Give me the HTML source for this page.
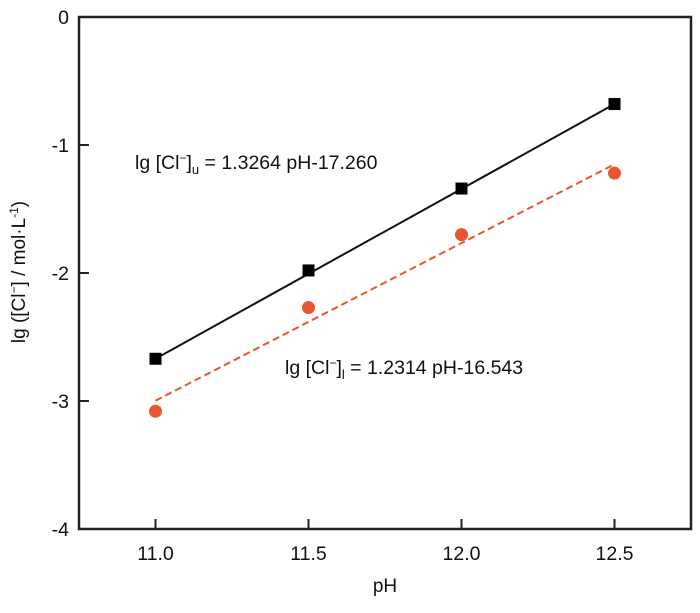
<!DOCTYPE html>
<html><head><meta charset="utf-8"><style>
body{margin:0;background:#fff}
svg text{font-family:"Liberation Sans",Arial,sans-serif;fill:#111}
</style></head><body>
<svg width="700" height="608" id="c">
<text x="135" y="169" font-size="19.5">lg [Cl<tspan dy="-7" font-size="12">−</tspan><tspan dy="7">]</tspan><tspan dy="5" font-size="13">u</tspan><tspan dy="-5"> = 1.3264 pH-17.260</tspan></text>
<text x="285" y="374" font-size="19.5">lg [Cl<tspan dy="-7" font-size="12">−</tspan><tspan dy="7">]</tspan><tspan dy="5" font-size="13">l</tspan><tspan dy="-5"> = 1.2314 pH-16.543</tspan></text>
<text x="385" y="592" font-size="19" text-anchor="middle">pH</text>
<text transform="translate(25,272) rotate(-90)" font-size="19" text-anchor="middle">lg ([Cl<tspan dy="-7" font-size="12">−</tspan><tspan dy="7">] / mol·L</tspan><tspan dy="-7" font-size="12">-1</tspan><tspan dy="7">)</tspan></text>
</svg>
<script>
const xTicks=[11.0,11.5,12.0,12.5];
const xTickLabels=["11.0","11.5","12.0","12.5"];
const yTicks=[0,-1,-2,-3,-4];
const yTickLabels=["0","-1","-2","-3","-4"];
const phValues=[11.0,11.5,12.0,12.5];
const upperValues=[-2.67,-1.98,-1.34,-0.68];
const lowerValues=[-3.08,-2.27,-1.70,-1.22];
const upperFit=[1.3264,-17.260];
const lowerFit=[1.2314,-16.543];
const NS="http://www.w3.org/2000/svg",svg=document.getElementById('c');
const L=79,R=691,T=17,B=529,x0=10.75,x1=12.75,y0=-4,y1=0;
const X=v=>L+(v-x0)/(x1-x0)*(R-L), Y=v=>B-(v-y0)/(y1-y0)*(B-T);
function mk(t,a){const e=document.createElementNS(NS,t);for(const k in a)e.setAttribute(k,a[k]);svg.appendChild(e);return e;}
let e=mk('rect',{x:L,y:T,width:R-L,height:B-T,fill:'none',stroke:'#222','stroke-width':2.5});


xTicks.forEach((v,i)=>{
 let t=mk('line',{x1:X(v),x2:X(v),y1:B,y2:B-10,stroke:'#222','stroke-width':2});
 
 
 let l=mk('text',{x:X(v),y:B+31,'font-size':19.5,'text-anchor':'middle'});l.textContent=xTickLabels[i];
 
 
});
yTicks.forEach((v,i)=>{
 let t=mk('line',{x1:L,x2:L+10,y1:Y(v),y2:Y(v),stroke:'#222','stroke-width':2});
 
 
 let l=mk('text',{x:L-10,y:Y(v)+7,'font-size':19.5,'text-anchor':'end'});l.textContent=yTickLabels[i];
 
 
});
const xa=phValues[0],xb=phValues[phValues.length-1];
let f1=mk('line',{x1:X(xa),y1:Y(upperFit[0]*xa+upperFit[1]),x2:X(xb),y2:Y(upperFit[0]*xb+upperFit[1]),stroke:'#111','stroke-width':2});


let f2=mk('line',{x1:X(xa),y1:Y(lowerFit[0]*xa+lowerFit[1]),x2:X(xb),y2:Y(lowerFit[0]*xb+lowerFit[1]),stroke:'#e8552e','stroke-width':2,'stroke-dasharray':'7,4'});


phValues.forEach((p,i)=>{
 let s=mk('rect',{x:X(p)-6,y:Y(upperValues[i])-6,width:12,height:12,fill:'#000'});
 
 
 let c=mk('circle',{cx:X(p),cy:Y(lowerValues[i]),r:6.5,fill:'#e8552e'});
 
 
});
</script>
</body></html>
